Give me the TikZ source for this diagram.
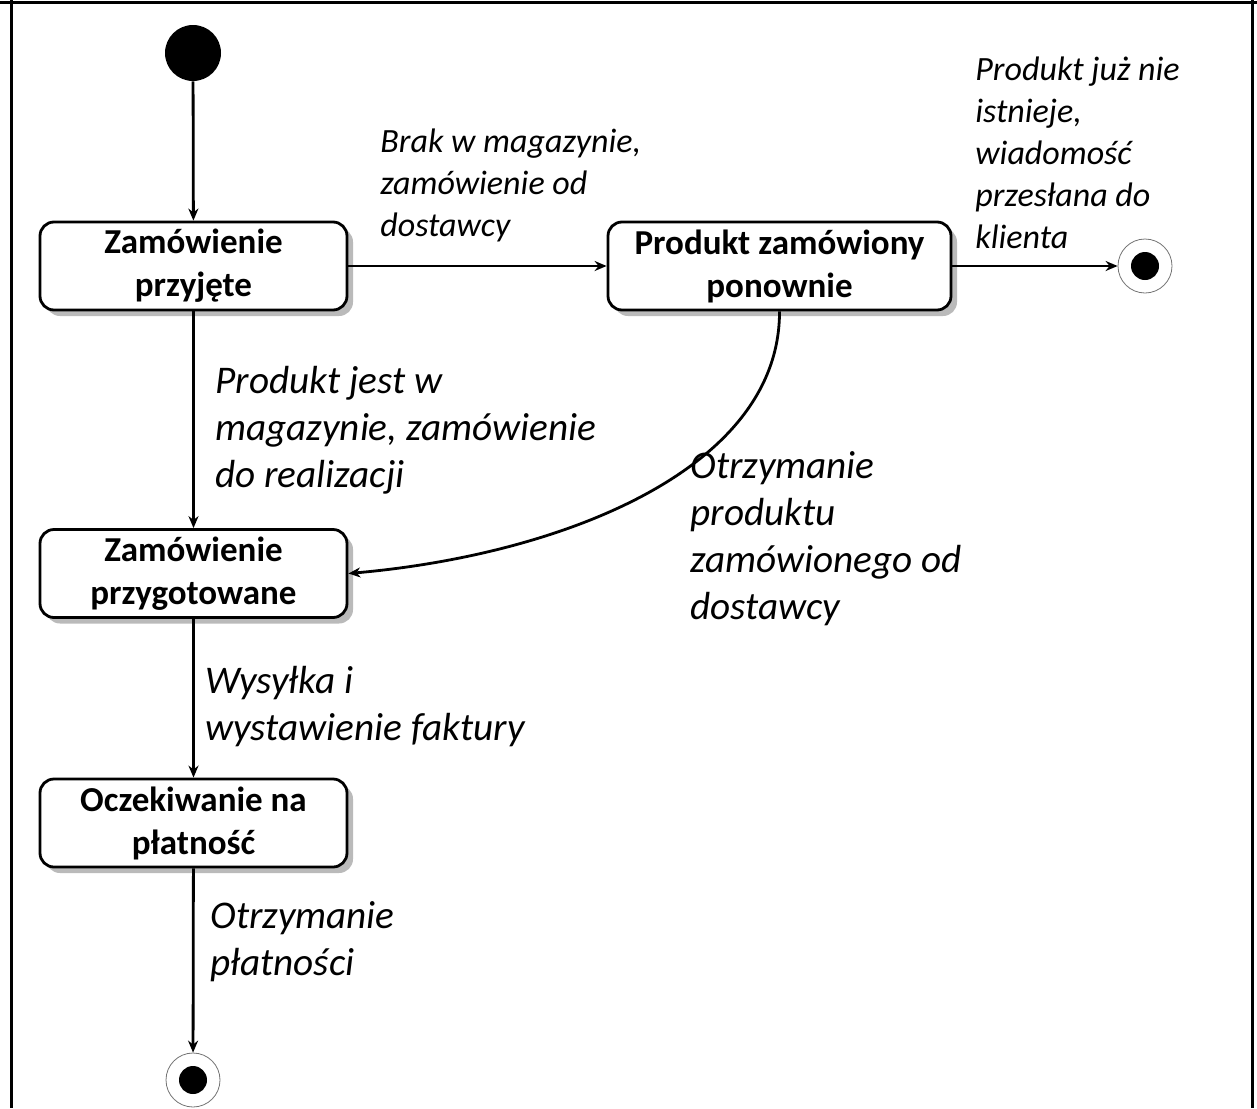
\documentclass[tikz,border=0pt]{standalone}
\usepackage{fontspec}
\setmainfont{Carlito}
\usetikzlibrary{arrows.meta,shadows}
\begin{document}
\begin{tikzpicture}[x=0.5pt,y=-0.5pt,
  state/.style={draw, line width=1.4pt, rounded corners=7pt, fill=white,
    minimum width=153.5pt, minimum height=44pt, align=center, inner sep=2pt,
    font=\fontsize{17.5}{21.5}\selectfont\bfseries,
    drop shadow={shadow xshift=3pt, shadow yshift=-3pt, fill=black!45, opacity=0.6}},
  initial/.style={circle, fill=black, minimum size=28pt, inner sep=0pt},
  final/.style={circle, draw=black!55, line width=0.4pt, minimum size=27pt, inner sep=0pt,
    path picture={\fill[black] (path picture bounding box.center) circle (7pt);}},
  conn/.style={line width=1.4pt, -{Stealth[length=6pt,width=5pt]}},
  small/.style={anchor=north west, inner sep=0pt, align=left,
    font=\fontsize{17}{21}\selectfont\itshape},
  big/.style={anchor=north west, inner sep=0pt, align=left,
    font=\fontsize{19.6}{23.5}\selectfont\itshape},
  frame/.style={line width=1.5pt}
]
\useasboundingbox (0,0) rectangle (1257,1108);
% frame
\coordinate (fTL) at (11,0);
\coordinate (fBL) at (11,1108);
\coordinate (fT0) at (0,2);
\coordinate (fT1) at (1257,2);
\coordinate (fTR) at (1252,0);
\coordinate (fBR) at (1252,1108);
\draw[frame] (fTL) -- (fBL);
\draw[frame] (fT0) -- (fT1);
\draw[frame] (fTR) -- (fBR);

% nodes
\node[initial] (init) at (193,53) {};
\node[state] (b1) at (193.5,266) {Zamówienie\\przyjęte};
\node[state, minimum width=171.5pt] (b2) at (779.5,266) {Produkt zamówiony\\ponownie};
\node[state] (b3) at (193.5,573.5) {Zamówienie\\przygotowane};
\node[state] (b4) at (193.5,823) {Oczekiwanie na\\płatność};
\node[final] (end1) at (1145,266) {};
\node[final] (end2) at (193,1080) {};

% connectors
\draw[conn] (init) -- (b1);
\draw[conn] (b1) -- (b2);
\draw[conn] (b2) -- (end1);
\draw[conn] (b1) -- (b3);
\draw[conn] (b2.south) .. controls (780,470) and (560,555) .. (b3.east);
\draw[conn] (b3) -- (b4);
\draw[conn] (b4) -- (end2);

% labels
\node[small] (l1) at (380,128) {Brak w magazynie,\\zamówienie od\\dostawcy};
\node[small] (l2) at (975,56) {Produkt już nie\\istnieje,\\wiadomość\\przesłana do\\klienta};
\node[big] (l3) at (215,366) {Produkt jest w\\magazynie, zamówienie\\do realizacji};
\node[big] (l4) at (690,451) {Otrzymanie\\produktu\\zamówionego od\\dostawcy};
\node[big] (l5) at (205,666) {Wysyłka i\\wystawienie faktury};
\node[big] (l6) at (210,901) {Otrzymanie\\płatności};
\end{tikzpicture}
\end{document}
